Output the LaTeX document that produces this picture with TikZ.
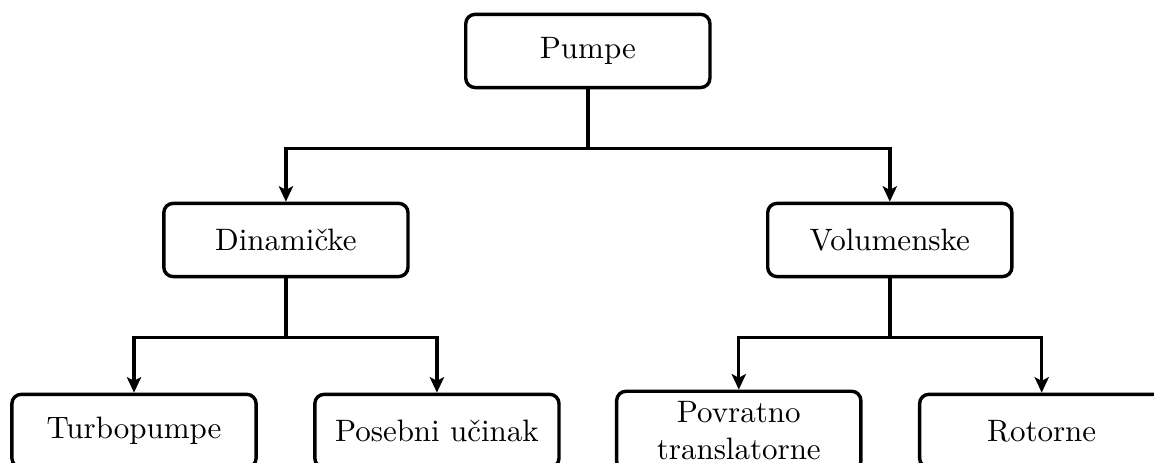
\documentclass[tikz,border=0pt]{standalone}
\usepackage{amsmath}
\usepackage{tikz}
\usetikzlibrary{shapes,arrows.meta,positioning}

\tikzset{kutija/.style={draw,line width=1.1pt,rounded corners=3pt,minimum width=2.77cm,minimum height=0.83cm,text width=2.5cm,align=center},
veza/.style={line width=1.1pt,-{Stealth[length=5pt,width=4.6pt,inset=1.2pt]}}}

\begin{document}
\begin{tikzpicture}
\useasboundingbox (0,0) rectangle (13.09,-5.25);
\node[kutija](pumpe) at (6.668,-0.578) {Pumpe};
\node[kutija](din) at (3.243,-2.722) {Dinamičke};
\node[kutija](vol) at (10.093,-2.722) {Volumenske};
\node[kutija](turbo) at (1.520,-4.888) {Turbopumpe};
\node[kutija](posebni) at (4.956,-4.888) {Posebni učinak};
\node[kutija](povratno) at (8.380,-4.888) {Povratno translatorne};
\node[kutija](rotorne) at (11.816,-4.888) {Rotorne};

\foreach \a/\b in {pumpe/din,pumpe/vol,din/turbo,din/posebni,vol/povratno,vol/rotorne}
\draw[veza] (\a.south) -- ++(0,-0.67) -| (\b.north);

\end{tikzpicture}
\end{document}
